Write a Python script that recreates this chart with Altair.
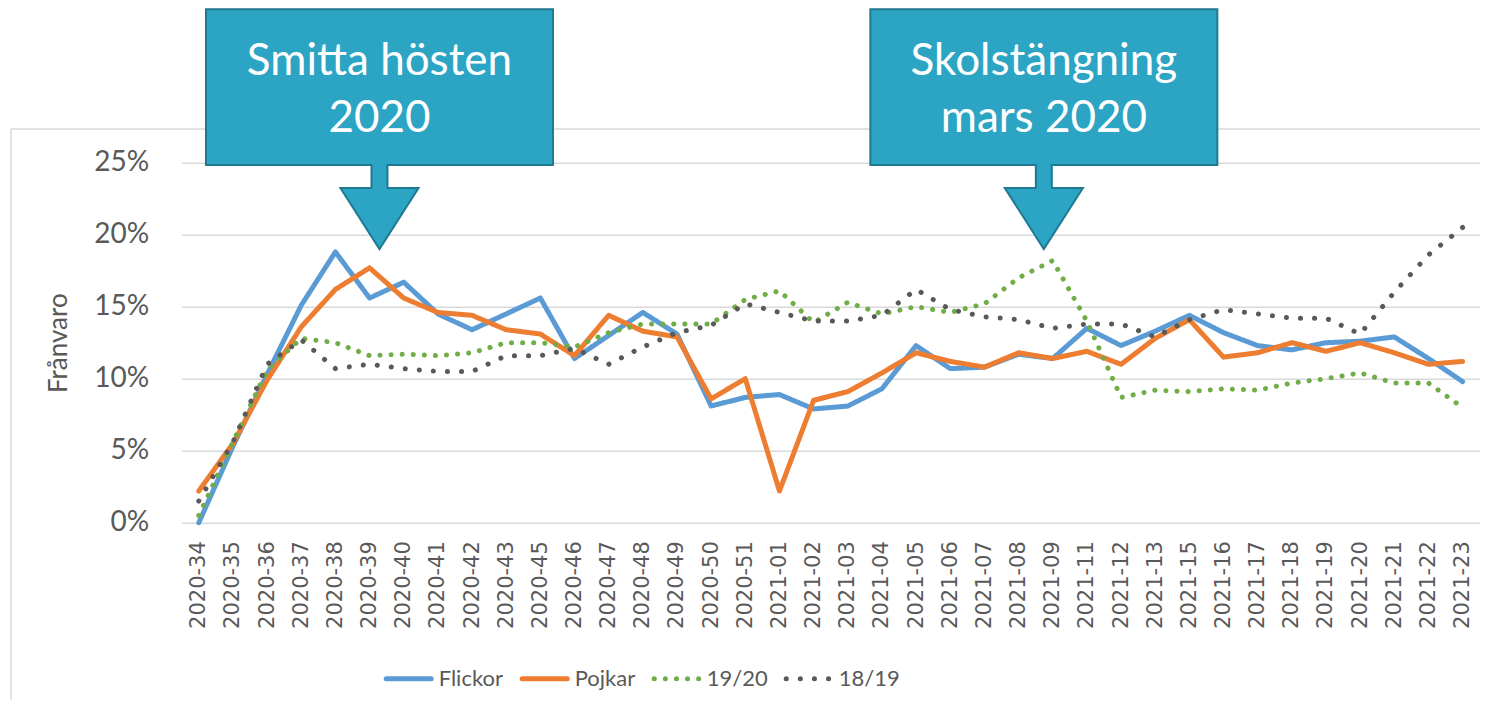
import altair as alt
import pandas as pd

# ---------------- data ----------------
weeks = ["2020-34", "2020-35", "2020-36", "2020-37", "2020-38", "2020-39", "2020-40",
         "2020-41", "2020-42", "2020-43", "2020-45", "2020-46", "2020-47", "2020-48",
         "2020-49", "2020-50", "2020-51", "2021-01", "2021-02", "2021-03", "2021-04",
         "2021-05", "2021-06", "2021-07", "2021-08", "2021-09", "2021-11", "2021-12",
         "2021-13", "2021-15", "2021-16", "2021-17", "2021-18", "2021-19", "2021-20",
         "2021-21", "2021-22", "2021-23"]

flickor = [0.0, 5.3, 10.3, 15.1, 18.8, 15.6, 16.7, 14.5, 13.4, 14.5, 15.6, 11.4, 13.0,
           14.6, 13.1, 8.1, 8.7, 8.9, 7.9, 8.1, 9.3, 12.3, 10.7, 10.8, 11.7, 11.4, 13.5,
           12.3, 13.3, 14.4, 13.2, 12.3, 12.0, 12.5, 12.6, 12.9, 11.4, 9.8]
pojkar = [2.2, 5.5, 9.9, 13.6, 16.2, 17.7, 15.6, 14.6, 14.4, 13.4, 13.1, 11.6, 14.4,
          13.3, 12.9, 8.6, 10.0, 2.2, 8.5, 9.1, 10.4, 11.8, 11.2, 10.8, 11.8, 11.4, 11.9,
          11.0, 12.8, 14.1, 11.5, 11.8, 12.5, 11.9, 12.5, 11.8, 11.0, 11.2]
lasar_1920 = [0.5, 5.6, 10.6, 12.8, 12.5, 11.6, 11.7, 11.6, 11.8, 12.5, 12.5, 12.2, 13.2,
              13.8, 13.8, 13.8, 15.5, 16.1, 13.9, 15.3, 14.5, 15.0, 14.6, 15.2, 17.0, 18.2,
              14.0, 8.7, 9.2, 9.1, 9.3, 9.2, 9.7, 10.0, 10.4, 9.7, 9.7, 8.0]
lasar_1819 = [1.5, 5.6, 11.0, 12.7, 10.7, 11.0, 10.7, 10.5, 10.5, 11.6, 11.6, 12.1, 11.0,
              12.2, 13.2, 13.7, 15.2, 14.6, 14.0, 14.0, 14.4, 16.2, 14.8, 14.3, 14.1, 13.5,
              13.8, 13.8, 12.9, 14.1, 14.8, 14.5, 14.2, 14.2, 13.1, 16.0, 18.6, 20.5]

series = ["Flickor", "Pojkar", "19/20", "18/19"]
series_values = [flickor, pojkar, lasar_1920, lasar_1819]
colors = ["#5B9BD5", "#ED7D31", "#70AD47", "#595959"]

y_ticks = [0, 0.05, 0.10, 0.15, 0.20, 0.25]

# annotations: text lines and the (category index, value) the callout is centred on
callout_line1 = ["Smitta hösten", "Skolstängning"]
callout_line2 = ["2020", "mars 2020"]
callout_idx = [5.29, 24.74]
callout_val = [0.2733, 0.2733]

# ---------------- tables ----------------
rows = []
for name, vals in zip(series, series_values):
    for i, (w, v) in enumerate(zip(weeks, vals)):
        rows.append({"idx": i, "vecka": w, "serie": name, "value": v / 100.0})
df = pd.DataFrame(rows)

cdf = pd.DataFrame({"idx": callout_idx, "value": callout_val,
                    "t1": callout_line1, "t2": callout_line2})

W, H = 1298, 360
GRAY = "#595959"
FONT = "Lato"

label_expr = "[" + ",".join("'%s'" % w for w in weeks) + "][datum.value]"
x_scale = alt.Scale(domain=[-0.5, len(weeks) - 0.5], nice=False, zero=False)
y_scale = alt.Scale(domain=[0, 0.25], nice=False, zero=False)

x_axis = alt.Axis(values=list(range(len(weeks))), labelExpr=label_expr,
                  labelAngle=270, labelFont="DejaVu Sans", labelFontSize=21,
                  labelColor=GRAY, labelPadding=18, labelOverlap=False,
                  labelFlush=False, labelBound=False, domain=False,
                  ticks=False, grid=False, title=None)
y_axis = alt.Axis(values=y_ticks, format=".0%", labelFont=FONT,
                  labelFontSize=28, labelColor=GRAY, labelPadding=33,
                  domain=False, ticks=False, grid=True, gridColor="#D9D9D9",
                  gridWidth=1.5, title="Frånvaro", titleFont=FONT,
                  titleFontSize=26, titleFontWeight="normal",
                  titleColor=GRAY, titlePadding=22)

callout_path = ("M-1,-0.691L1,-0.691L1,0.206L0.046,0.206L0.046,0.339L0.225,0.339"
                "L0,0.691L-0.225,0.339L-0.046,0.339L-0.046,0.206L-1,0.206Z")

dashes = [[1, 0], [1, 0], [0.1, 11], [0.1, 14]]
widths = [5, 5, 4.5, 6]

legend_kw = dict(title=None, orient="none", legendX=202, legendY=491,
                 columns=4, symbolType="stroke",
                 symbolSize=2025, symbolStrokeWidth=5, labelFont=FONT,
                 labelFontSize=22, labelColor=GRAY, labelOffset=5,
                 columnPadding=8, padding=0)

frame_src = pd.DataFrame({"a": [0]})
frame_left = alt.Chart(frame_src).mark_rule(color="#D9D9D9", strokeWidth=1.5).encode(
    x=alt.value(-170.7), y=alt.value(-33.7), y2=alt.value(537))
frame_top = alt.Chart(frame_src).mark_rule(color="#D9D9D9", strokeWidth=1.5).encode(
    x=alt.value(-170.7), x2=alt.value(W + 10), y=alt.value(-33.7))

X = alt.X("idx:Q", scale=x_scale, axis=x_axis)
Y = alt.Y("value:Q", scale=y_scale, axis=y_axis)

lines = alt.Chart(df).mark_line(strokeCap="round", strokeJoin="round", clip=False).encode(
    x=X, y=Y,
    color=alt.Color("serie:N", scale=alt.Scale(domain=series, range=colors),
                    sort=series, legend=alt.Legend(**legend_kw)),
    strokeDash=alt.StrokeDash("serie:N", scale=alt.Scale(domain=series, range=dashes),
                              sort=series, legend=alt.Legend(**legend_kw)),
    strokeWidth=alt.StrokeWidth("serie:N", scale=alt.Scale(domain=series, range=widths),
                                legend=None),
    order=alt.Order("idx:Q"),
)

shapes = alt.Chart(cdf).mark_point(shape=callout_path, size=347 ** 2, filled=True,
                                   fill="#2CA5C4", stroke="#1F7A91", strokeWidth=2,
                                   opacity=1, fillOpacity=1, strokeOpacity=1,
                                   clip=False).encode(x=X, y=Y)

text1 = alt.Chart(cdf).mark_text(font=FONT, fontSize=44, color="white",
                                 baseline="alphabetic", align="center", dy=-54,
                                 clip=False).encode(x=X, y=Y, text="t1:N")
text2 = alt.Chart(cdf).mark_text(font=FONT, fontSize=44, color="white",
                                 baseline="alphabetic", align="center", dy=2.5,
                                 clip=False).encode(x=X, y=Y, text="t2:N")

chart = alt.layer(frame_left, frame_top, lines, shapes, text1, text2).properties(
    width=W, height=H,
    autosize=alt.AutoSizeParams(type="none"),
    padding={"left": 173.7, "top": 154.7, "right": 0, "bottom": 180},
    background="white",
).configure_view(stroke=None)

legend_patch = [{"op": "add", "path": "/legends/0/encode",
                 "value": {"symbols": {"update": {"strokeCap": {"value": "round"},
                                                  "fill": {"value": "transparent"}}}}}]

chart.save("out.html", embed_options={"renderer": "svg", "actions": False,
                                      "patch": legend_patch})
